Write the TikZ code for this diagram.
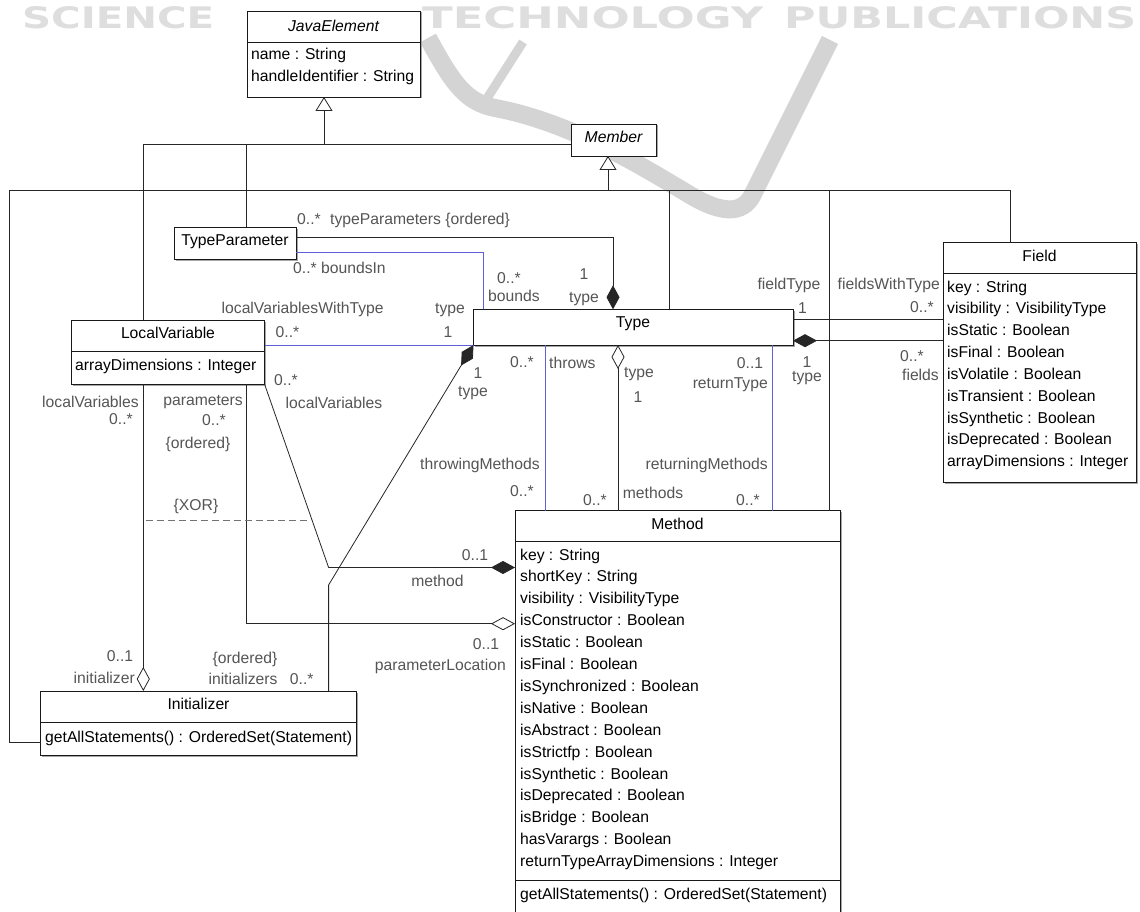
\documentclass[tikz,border=0pt]{standalone}
\usepackage{fontspec}
\setmainfont{Liberation Sans}
\newfontfamily\wmfont{DejaVu Sans}
\usepackage{graphicx}
\usepackage{tikz}
\usetikzlibrary{calc,arrows.meta,shadows}

\definecolor{assocblue}{RGB}{96,96,214}
\definecolor{wmgray}{RGB}{222,222,222}
\definecolor{swgray}{RGB}{212,212,212}
\definecolor{lblgray}{RGB}{85,85,85}

\newcommand{\umlfont}{\fontsize{15.7}{18}\selectfont}

\tikzset{
  umlbox/.style={draw=black!90, line width=0.9pt, fill=white, anchor=north west,
    inner sep=0pt, outer sep=0pt,
    drop shadow={shadow xshift=1.5pt, shadow yshift=-1.5pt, fill=black!35, opacity=1}},
  sepline/.style={draw=black!90, line width=0.9pt},
  ttl/.style={font=\umlfont, anchor=base, inner sep=0pt},
  attr/.style={font=\umlfont, anchor=base west, inner sep=0pt},
  lbl/.style={font=\umlfont, text=lblgray, anchor=base, inner sep=0pt},
  conn/.style={draw=black!85, line width=0.8pt},
  bconn/.style={draw=assocblue, line width=0.8pt},
  gen/.style={-{Triangle[open, length=14pt, width=17pt, fill=white]}},
  comp/.style={-{Diamond[length=24pt, width=13pt]}},
  aggr/.style={-{Diamond[open, length=24pt, width=13pt, fill=white]}},
  wm/.style={text=wmgray, inner sep=0pt, anchor=north west, font=\wmfont\bfseries},
}

\begin{document}
\begin{tikzpicture}[x=1pt,y=-1pt]
  \useasboundingbox (0,0) rectangle (1140,912);
  \fill[white] (0,0) rectangle (1140,912);

  % watermark
  \foreach \w/\x/\ww in {SCIENCE/22/192, TECHNOLOGY/422/341, PUBLICATIONS/784/352}
    \node[wm] (wm\w) at (\x,6) {\resizebox{\ww pt}{22pt}{\w}};
  \draw[swgray, line width=18pt, line join=round] (428,38) .. controls (452,82) and (465,102) .. (495,108)
    .. controls (570,122) and (640,165) .. (690,195) .. controls (722,214) and (742,214) .. (752,196) -- (830,40);
  \draw[swgray, line width=9pt] (523,42) -- (486,100);

  % classes
  \node[umlbox, minimum width=173, minimum height=86] (je) at (247,11) {};
  \draw[sepline] ($(je.north west)+(0,31)$) -- ($(je.north east)+(0,31)$);
  \node[ttl, font=\umlfont\itshape] (jet) at (333.5,31.5) {JavaElement};
  \node[attr] (je1) at (251,60) {name : String};
  \node[attr] (je2) at (251,82) {handleIdentifier : String};

  \node[umlbox, minimum width=85, minimum height=32] (mem) at (571,124) {};
  \node[ttl, font=\umlfont\itshape] (memt) at (613.5,143) {Member};

  \node[umlbox, minimum width=122, minimum height=32] (tp) at (174,227) {};
  \node[ttl] (tpt) at (235,245) {TypeParameter};

  \node[umlbox, minimum width=193, minimum height=64] (lv) at (71.5,320) {};
  \draw[sepline] ($(lv.north west)+(0,31)$) -- ($(lv.north east)+(0,31)$);
  \node[ttl] (lvt) at (168,338) {LocalVariable};
  \node[attr] (lv1) at (75,370) {arrayDimensions : Integer};

  \node[umlbox, minimum width=319.5, minimum height=35.7] (ty) at (473.5,309.3) {};
  \node[ttl] (tyt) at (633,327) {Type};

  \node[umlbox, minimum width=193, minimum height=240] (fld) at (943,242.5) {};
  \draw[sepline] ($(fld.north west)+(0,30.5)$) -- ($(fld.north east)+(0,30.5)$);
  \node[ttl] (fldt) at (1039.5,261) {Field};
  \foreach \a [count=\i from 0] in {key : String, visibility : VisibilityType, isStatic : Boolean,
      isFinal : Boolean, isVolatile : Boolean, isTransient : Boolean, isSynthetic : Boolean,
      isDeprecated : Boolean, arrayDimensions : Integer}
    \node[attr] (fa\i) at (947,{292+21.85*\i}) {\a};

  \node[umlbox, minimum width=325, minimum height=420] (mth) at (515,510.7) {};
  \draw[sepline] ($(mth.north west)+(0,31)$) -- ($(mth.north east)+(0,31)$);
  \draw[sepline] ($(mth.north west)+(0,369.3)$) -- ($(mth.north east)+(0,369.3)$);
  \node[ttl] (mtht) at (677.5,529) {Method};
  \foreach \a [count=\i from 0] in {key : String, shortKey : String, visibility : VisibilityType,
      isConstructor : Boolean, isStatic : Boolean, isFinal : Boolean, isSynchronized : Boolean,
      isNative : Boolean, isAbstract : Boolean, isStrictfp : Boolean, isSynthetic : Boolean,
      isDeprecated : Boolean, isBridge : Boolean, hasVarargs : Boolean,
      returnTypeArrayDimensions : Integer}
    \node[attr] (ma\i) at (520,{560+21.9*\i}) {\a};
  \node[attr] (mop) at (520,899.5) {getAllStatements() : OrderedSet(Statement)};

  \node[umlbox, minimum width=316, minimum height=64] (ini) at (40.5,691) {};
  \draw[sepline] ($(ini.north west)+(0,31.5)$) -- ($(ini.north east)+(0,31.5)$);
  \node[ttl] (init) at (198.5,709) {Initializer};
  \node[attr] (iop) at (45,742) {getAllStatements() : OrderedSet(Statement)};

  % generalizations
  \coordinate (jebus) at (324,144);
  \coordinate (membus) at (608,190.7);
  \coordinate (lframe) at (9.3,190.7);
  \coordinate (rframe) at (1010.7,190.7);
  \draw[conn, gen] (jebus) -- (jebus |- je.south);
  \draw[conn] ($(lv.north west)+(71.8,0)$) |- (mem.west |- jebus);
  \draw[conn] ($(tp.north west)+(72.7,0)$) |- (jebus);
  \draw[conn, gen] (membus) -- (membus |- mem.south);
  \draw[conn] ($(ini.north west)+(0,51)$) -| (lframe) -- (rframe) -- ($(fld.north west)+(67.7,0)$);
  \draw[conn] ($(ty.north west)+(196,0)$) |- (membus);
  \draw[conn] ($(mth.north west)+(314.3,0)$) |- (membus);

  % associations
  \draw[conn, comp] ($(tp.north east)+(0,10.5)$) -| ($(ty.north west)+(139.5,0)$);
  \draw[bconn] ($(tp.north east)+(0,25.3)$) -| ($(ty.north west)+(10.3,0)$);
  \draw[bconn] (ty.south west) -- (ty.south west -| lv.east);
  \coordinate (mjoin) at (328.6,567.5);
  \draw[conn, comp] (lv.south east) -- (mjoin) -- (mjoin -| mth.west);
  \draw[conn, aggr] ($(lv.south west)+(175.2,0)$) |- ($(mth.north west)+(0,113)$);
  \draw[conn, aggr] ($(lv.south west)+(71.8,0)$) -- ($(ini.north west)+(102.8,0)$);
  \coordinate (ijoin) at (328.6,585);
  \draw[conn, comp] ($(ini.north west)+(288.1,0)$) -- (ijoin) -- (ty.south west);
  \draw[bconn] ($(mth.north west)+(30.7,0)$) -- ($(ty.south west)+(72.2,0)$);
  \draw[conn, aggr] ($(mth.north west)+(103,0)$) -- ($(ty.south west)+(144.5,0)$);
  \draw[bconn] ($(mth.north west)+(257.7,0)$) -- ($(ty.south west)+(299.2,0)$);
  \coordinate (ftl) at ($(ty.north east)+(0,10)$);
  \draw[conn] (ftl) -- (ftl -| fld.west);
  \coordinate (fdl) at ($(ty.north east)+(0,31.4)$);
  \draw[conn, comp] (fdl -| fld.west) -- (fdl);
  \coordinate (xora) at (145.7,520);
  \coordinate (xorb) at (310.7,520);
  \draw[black!55, line width=0.8pt, dash pattern=on 7pt off 4pt] (xora) -- (xorb);

  % role names and multiplicities
  \node[lbl, anchor=base west] (tp1) at (297,225) {0..*};
  \node[lbl, anchor=base west] (tp2) at (330,225) {typeParameters \{ordered\}};
  \node[lbl, anchor=base west] (bi) at (293,273) {0..* boundsIn};
  \node[lbl, anchor=base west] (bd1) at (497,283) {0..*};
  \node[lbl, anchor=base west] (bd2) at (488,301) {bounds};
  \node[lbl] (tt1) at (584,279) {1};
  \node[lbl] (tt2) at (584,302) {type};
  \node[lbl] (lw1) at (302.7,313) {localVariablesWithType};
  \node[lbl] (lw2) at (287.5,337) {0..*};
  \node[lbl] (lt1) at (450,313) {type};
  \node[lbl] (lt2) at (448,337) {1};
  \node[lbl] (lm1) at (286,385) {0..*};
  \node[lbl] (lm2) at (334,408) {localVariables};
  \node[lbl] (it1) at (478,378) {1};
  \node[lbl] (it2) at (473,396) {type};
  \node[lbl] (th1) at (522,367) {0..*};
  \node[lbl, anchor=base west] (th2) at (549,368) {throws};
  \node[lbl] (mt1) at (639,377) {type};
  \node[lbl] (mt2) at (638,402) {1};
  \node[lbl] (rt1) at (750,368) {0..1};
  \node[lbl, anchor=base east] (rt2) at (768,388) {returnType};
  \node[lbl] (ft1) at (807,367) {1};
  \node[lbl] (ft2) at (807,381) {type};
  \node[lbl] (fty1) at (789,289) {fieldType};
  \node[lbl] (fty2) at (802.5,313) {1};
  \node[lbl, anchor=base east] (fw1) at (940,289) {fieldsWithType};
  \node[lbl] (fw2) at (922,312) {0..*};
  \node[lbl] (fs1) at (912,361) {0..*};
  \node[lbl, anchor=base east] (fs2) at (939,380) {fields};
  \node[lbl, anchor=base east] (tm1) at (540,469) {throwingMethods};
  \node[lbl] (tm2) at (522,496) {0..*};
  \node[lbl] (ms1) at (595,505) {0..*};
  \node[lbl] (ms2) at (653,498) {methods};
  \node[lbl, anchor=base east] (rm1) at (768,469) {returningMethods};
  \node[lbl] (rm2) at (748,505) {0..*};
  \node[lbl, anchor=base east] (lv2a) at (139,407) {localVariables};
  \node[lbl] (lv2b) at (121,424) {0..*};
  \node[lbl, anchor=base east] (pa1) at (243,405) {parameters};
  \node[lbl] (pa2) at (214,425) {0..*};
  \node[lbl] (pa3) at (198,448) {\{ordered\}};
  \node[lbl] (xor) at (196,510) {\{XOR\}};
  \node[lbl] (me1) at (475,560) {0..1};
  \node[lbl] (me2) at (437.5,586) {method};
  \node[lbl] (pl1) at (486,649) {0..1};
  \node[lbl, anchor=base east] (pl2) at (506,670) {parameterLocation};
  \node[lbl] (in1) at (120,661.7) {0..1};
  \node[lbl, anchor=base east] (in2) at (135,683) {initializer};
  \node[lbl] (is1) at (245,663) {\{ordered\}};
  \node[lbl] (is2) at (243,684) {initializers};
  \node[lbl] (is3) at (301.7,684) {0..*};
\end{tikzpicture}
\end{document}
